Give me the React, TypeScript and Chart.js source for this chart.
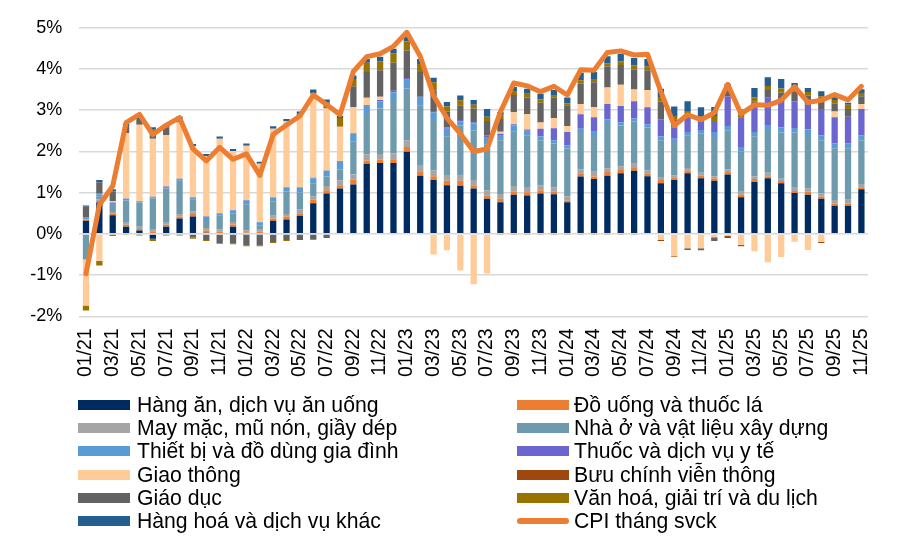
import React, { useEffect, useRef } from 'react';
import { Chart, registerables } from 'chart.js';

Chart.register(...registerables);

const months = [
  '01/21', '02/21', '03/21', '04/21', '05/21', '06/21', '07/21', '08/21', '09/21', '10/21', '11/21', '12/21',
  '01/22', '02/22', '03/22', '04/22', '05/22', '06/22', '07/22', '08/22', '09/22', '10/22', '11/22', '12/22',
  '01/23', '02/23', '03/23', '04/23', '05/23', '06/23', '07/23', '08/23', '09/23', '10/23', '11/23', '12/23',
  '01/24', '02/24', '03/24', '04/24', '05/24', '06/24', '07/24', '08/24', '09/24', '10/24', '11/24', '12/24',
  '01/25', '02/25', '03/25', '04/25', '05/25', '06/25', '07/25', '08/25', '09/25', '10/25', '11/25',
];

const food = [
  0.32, 0.76, 0.45, 0.17, 0.08, -0.12, 0.17, 0.37, 0.42, 0.03, 0.02, 0.17,
  -0.04, -0.04, 0.32, 0.35, 0.44, 0.74, 0.98, 1.10, 1.20, 1.70, 1.72, 1.72,
  1.99, 1.41, 1.31, 1.18, 1.17, 1.10, 0.85, 0.77, 0.95, 0.93, 0.98, 0.96,
  0.77, 1.39, 1.33, 1.41, 1.47, 1.53, 1.40, 1.23, 1.31, 1.47, 1.35, 1.29,
  1.44, 0.89, 1.26, 1.35, 1.23, 0.99, 0.95, 0.85, 0.68, 0.68, 1.08,
];
const drinks = [
  0.02, 0.04, 0.03, 0.05, 0.04, 0.05, 0.05, 0.05, 0.06, 0.05, 0.04, 0.06,
  0.04, 0.05, 0.05, 0.07, 0.06, 0.09, 0.08, 0.08, 0.12, 0.08, 0.08, 0.09,
  0.12, 0.11, 0.09, 0.11, 0.12, 0.08, 0.08, 0.08, 0.08, 0.08, 0.08, 0.06,
  0.04, 0.08, 0.06, 0.09, 0.08, 0.07, 0.06, 0.08, 0.05, 0.06, 0.06, 0.06,
  0.06, 0.06, 0.07, 0.05, 0.05, 0.05, 0.07, 0.05, 0.05, 0.05, 0.05,
];
const clothing = [
  0.02, 0.04, 0.05, 0.05, 0.05, 0.05, 0.05, 0.06, 0.06, 0.06, 0.05, 0.06,
  0.05, 0.05, 0.07, 0.06, 0.10, 0.08, 0.10, 0.12, 0.12, 0.15, 0.14, 0.14,
  0.16, 0.15, 0.14, 0.14, 0.12, 0.13, 0.13, 0.12, 0.13, 0.13, 0.12, 0.11,
  0.10, 0.10, 0.12, 0.09, 0.09, 0.10, 0.08, 0.05, 0.06, 0.07, 0.07, 0.05,
  0.06, 0.07, 0.06, 0.08, 0.06, 0.08, 0.08, 0.08, 0.09, 0.10, 0.08,
];
const housing = [
  -0.62, 0.06, 0.17, 0.54, 0.59, 0.75, 0.83, 0.81, 0.29, 0.22, 0.33, 0.20,
  0.63, 0.10, 0.34, 0.55, 0.40, 0.32, 0.23, 0.26, 0.81, 0.98, 1.10, 1.30,
  1.26, 1.44, 1.22, 0.94, 1.22, 1.20, 1.10, 1.30, 1.33, 1.24, 1.09, 1.06,
  1.16, 0.90, 0.89, 1.10, 0.99, 1.02, 1.04, 0.91, 0.81, 0.78, 0.95, 0.95,
  0.94, 0.97, 0.98, 1.04, 1.12, 1.34, 1.30, 1.29, 1.26, 1.25, 1.06,
];
const appliances = [
  0.03, 0.06, 0.05, 0.04, 0.03, 0.04, 0.04, 0.04, 0.05, 0.05, 0.05, 0.08,
  0.09, 0.08, 0.10, 0.09, 0.12, 0.12, 0.14, 0.19, 0.19, 0.19, 0.18, 0.18,
  0.21, 0.19, 0.19, 0.18, 0.10, 0.17, 0.19, 0.13, 0.14, 0.12, 0.09, 0.08,
  0.08, 0.08, 0.08, 0.09, 0.08, 0.08, 0.08, 0.09, 0.08, 0.09, 0.09, 0.12,
  0.12, 0.12, 0.10, 0.12, 0.12, 0.11, 0.13, 0.12, 0.12, 0.12, 0.12,
];
const health = [
  0.02, 0.02, 0.01, 0.01, 0.01, 0.01, 0.01, 0.01, 0.01, 0.01, 0.01, 0.01,
  0.01, 0.01, 0.01, 0.01, 0.01, 0.01, 0.01, 0.02, 0.01, 0.02, 0.03, 0.04,
  0.04, 0.03, 0.03, 0.03, 0.03, 0.03, 0.04, 0.03, 0.03, 0.03, 0.19, 0.29,
  0.32, 0.35, 0.35, 0.37, 0.39, 0.42, 0.41, 0.42, 0.27, 0.45, 0.22, 0.27,
  0.72, 0.71, 0.62, 0.66, 0.62, 0.64, 0.60, 0.64, 0.63, 0.64, 0.64,
];
const transport = [
  -1.12, -0.65, 0.04, 1.58, 1.85, 1.41, 1.25, 1.36, 1.24, 1.47, 1.81, 1.43,
  1.32, 1.41, 1.66, 1.60, 1.75, 2.04, 1.50, 0.83, 0.63, 0.18, 0.08, 0.0,
  0.0, 0.0, -0.50, -0.40, -0.89, -1.22, -0.96, 0.05, 0.29, 0.37, 0.15, 0.25,
  0.15, 0.25, 0.25, 0.40, 0.52, 0.28, 0.42, -0.15, -0.54, -0.35, -0.35, -0.08,
  -0.05, -0.27, -0.42, -0.69, -0.56, -0.19, -0.39, -0.20, 0.14, 0.0, 0.12,
];
const post = [
  0, 0, 0, 0, 0, 0, 0, 0, 0, 0, 0, 0,
  0, 0, 0, 0, 0, 0, 0, 0, 0, 0, 0, 0,
  0, 0, 0, 0, 0, 0, 0, -0.03, -0.03, -0.03, -0.03, -0.03,
  -0.03, -0.03, -0.03, -0.03, -0.03, -0.03, -0.02, -0.02, -0.02, 0, 0, 0,
  -0.05, 0, 0, 0, 0, 0, 0, -0.02, 0, 0, 0,
];
const education = [
  0.25, 0.27, 0.23, 0.20, 0.14, 0.23, 0.19, 0.12, -0.08, -0.15, -0.22, -0.23,
  -0.24, -0.24, -0.20, -0.15, -0.15, -0.14, -0.10, -0.02, 0.50, 0.63, 0.64, 0.68,
  0.67, 0.60, 0.50, 0.39, 0.35, 0.33, 0.35, 0.31, 0.42, 0.41, 0.48, 0.49,
  0.50, 0.50, 0.60, 0.51, 0.48, 0.49, 0.48, 0.43, 0.20, -0.04, -0.05, -0.09,
  0.10, -0.03, 0.12, 0.19, 0.23, 0.25, 0.23, 0.25, 0.19, 0.19, 0.19,
];
const culture = [
  -0.12, -0.12, -0.05, -0.03, -0.04, -0.05, -0.04, -0.04, -0.04, -0.02, -0.02, -0.02,
  -0.02, -0.02, -0.02, -0.02, 0.05, 0.02, 0.14, 0.21, 0.18, 0.22, 0.22, 0.23,
  0.22, 0.19, 0.20, 0.12, 0.13, 0.09, 0.10, 0.08, 0.08, 0.09, 0.08, 0.05,
  0.05, 0.08, 0.08, 0.08, 0.09, 0.10, 0.10, 0.09, 0.08, 0.06, 0.10, 0.12,
  0.10, 0.08, 0.10, 0.10, 0.10, 0.08, 0.08, 0.06, 0.09, 0.10, 0.08,
];
const otherGoods = [
  0.03, 0.06, 0.05, 0.03, 0.04, 0.05, 0.03, 0.03, 0.05, 0.05, 0.05, 0.05,
  0.05, 0.05, 0.06, 0.06, 0.04, 0.08, 0.08, 0.05, 0.08, 0.09, 0.11, 0.11,
  0.12, 0.12, 0.11, 0.11, 0.12, 0.12, 0.19, 0.09, 0.12, 0.12, 0.14, 0.14,
  0.14, 0.18, 0.17, 0.17, 0.18, 0.18, 0.17, 0.22, 0.23, 0.24, 0.23, 0.22,
  0.10, 0.12, 0.23, 0.21, 0.23, 0.12, 0.10, 0.12, 0.08, 0.05, 0.09,
];
const cpi = [
  -0.97, 0.70, 1.16, 2.70, 2.90, 2.41, 2.64, 2.82, 2.06, 1.77, 2.10, 1.81,
  1.94, 1.42, 2.41, 2.64, 2.86, 3.37, 3.14, 2.89, 3.94, 4.30, 4.37, 4.55,
  4.89, 4.31, 3.35, 2.81, 2.43, 2.00, 2.06, 2.96, 3.66, 3.59, 3.45, 3.58,
  3.37, 3.98, 3.97, 4.40, 4.44, 4.34, 4.36, 3.45, 2.63, 2.89, 2.77, 2.94,
  3.63, 2.91, 3.13, 3.12, 3.24, 3.57, 3.19, 3.24, 3.38, 3.25, 3.58,
];

const yTicks = [-2, -1, 0, 1, 2, 3, 4, 5];

const barSeries = [
  { label: 'Hàng ăn, dịch vụ ăn uống', data: food, color: '#002B60' },
  { label: 'Đồ uống và thuốc lá', data: drinks, color: '#ED7D31' },
  { label: 'May mặc, mũ nón, giầy dép', data: clothing, color: '#A5A5A5' },
  { label: 'Nhà ở và vật liệu xây dựng', data: housing, color: '#6E9AAE' },
  { label: 'Thiết bị và đồ dùng gia đình', data: appliances, color: '#5B9BD5' },
  { label: 'Thuốc và dịch vụ y tế', data: health, color: '#6B66CF' },
  { label: 'Giao thông', data: transport, color: '#FFCC99' },
  { label: 'Bưu chính viễn thông', data: post, color: '#9E480E' },
  { label: 'Giáo dục', data: education, color: '#636363' },
  { label: 'Văn hoá, giải trí và du lịch', data: culture, color: '#997300' },
  { label: 'Hàng hoá và dịch vụ khác', data: otherGoods, color: '#255E91' },
];
const lineSeries = { label: 'CPI tháng svck', data: cpi, color: '#ED7D31' };

const FONT = '"Liberation Sans", Arial, Helvetica, sans-serif';
const W = 897;
const H = 537;

export default function App() {
  const ref = useRef<HTMLCanvasElement | null>(null);

  useEffect(() => {
    if (!ref.current) return;
    const datasets: any[] = [
      {
        type: 'line',
        label: lineSeries.label,
        data: lineSeries.data,
        borderColor: lineSeries.color,
        backgroundColor: lineSeries.color,
        borderWidth: 5,
        pointRadius: 0,
        tension: 0,
        borderJoinStyle: 'round',
        borderCapStyle: 'round',
        stack: 'cpi',
        order: 0,
      },
      ...barSeries.map((s) => ({
        type: 'bar',
        label: s.label,
        data: s.data,
        backgroundColor: s.color,
        borderWidth: 0,
        stack: 'groups',
        order: 1,
        barPercentage: 0.47,
        categoryPercentage: 1,
      })),
    ];
    const chart = new Chart(ref.current, {
      type: 'bar',
      data: { labels: months, datasets },
      options: {
        animation: false,
        responsive: false,
        devicePixelRatio: 1,
        layout: { padding: { top: 14, right: 24, left: 0, bottom: 0 } },
        plugins: { legend: { display: false }, tooltip: { enabled: false } },
        scales: {
          x: {
            stacked: true,
            grid: { display: false, drawTicks: false },
            border: { display: false },
            ticks: {
              autoSkip: false,
              maxRotation: 90,
              minRotation: 90,
              padding: 12,
              color: '#000',
              font: { family: FONT, size: 19.5 },
              callback: (_v: any, i: number) => (i % 2 === 0 ? months[i] : ''),
            },
            afterFit: (s: any) => {
              s.height = H - 316.3;
            },
          },
          y: {
            stacked: true,
            min: yTicks[0],
            max: yTicks[yTicks.length - 1],
            afterBuildTicks: (s: any) => {
              s.ticks = yTicks.map((v) => ({ value: v }));
            },
            grid: { color: '#D9D9D9', lineWidth: 1.6, drawTicks: false },
            border: { display: false },
            ticks: {
              padding: 17,
              color: '#000',
              font: { family: FONT, size: 18 },
              callback: (v: any) => `${v}%`,
            },
            afterFit: (s: any) => {
              s.width = 79.3;
            },
          },
        },
      },
    });
    return () => chart.destroy();
  }, []);

  const leftCol = [0, 2, 4, 6, 8, 10].map((i) => barSeries[i]);
  const rightCol = [1, 3, 5, 7, 9].map((i) => barSeries[i]);

  const rowY = (r: number) => 405 + 23.2 * r;

  const item = (label: string, color: string, boxX: number, textX: number, r: number, isLine = false) => (
    <React.Fragment key={label}>
      <div
        style={{
          position: 'absolute',
          left: boxX,
          top: rowY(r) - (isLine ? 3 : 5),
          width: 52,
          height: isLine ? 6 : 10,
          background: color,
          borderRadius: isLine ? 3 : 0,
        }}
      />
      <div
        style={{
          position: 'absolute',
          left: textX,
          top: rowY(r) - 12,
          height: 24,
          lineHeight: '24px',
          fontFamily: FONT,
          fontSize: 21.2,
          color: '#000',
          whiteSpace: 'nowrap',
        }}
      >
        {label}
      </div>
    </React.Fragment>
  );

  return (
    <div style={{ position: 'absolute', left: 0, top: 0, width: W, height: H, background: '#fff', overflow: 'hidden' }}>
      <canvas ref={ref} width={W} height={H} style={{ position: 'absolute', left: 0, top: 0, width: W, height: H }} />
      {leftCol.map((s, r) => item(s.label, s.color, 78, 137, r))}
      {rightCol.map((s, r) => item(s.label, s.color, 517, 574, r))}
      {item(lineSeries.label, lineSeries.color, 517, 574, 5, true)}
    </div>
  );
}
